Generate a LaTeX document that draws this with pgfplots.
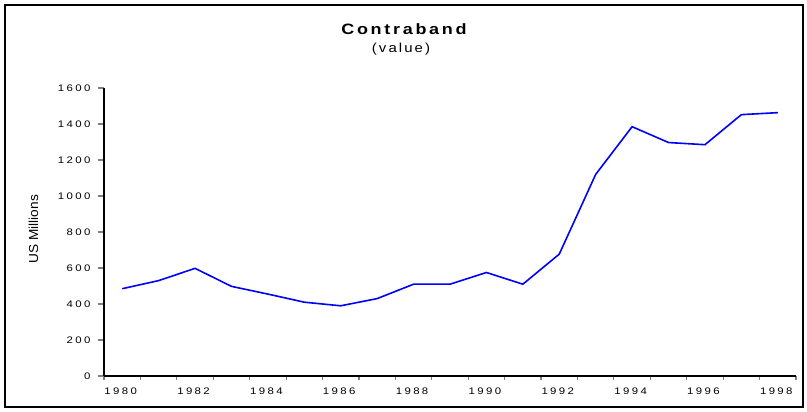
\documentclass[border=0pt]{standalone}
\usepackage{fontspec}
\setmainfont{Liberation Sans}
\newfontfamily\tickfont[FakeStretch=1.2,LetterSpace=25]{Liberation Sans}
\newfontfamily\titlefont[FakeStretch=1.2,LetterSpace=18]{Liberation Sans}
\newfontfamily\subfont[FakeStretch=1.15,LetterSpace=16]{Liberation Sans}
\newfontfamily\labelfont[FakeStretch=1.05]{Liberation Sans}
\usepackage{pgfplots}
\pgfplotsset{compat=1.18}
\begin{document}
\begin{tikzpicture}[x=1pt,y=1pt]
\fill[white] (-104,-36) rectangle (703,376);
\draw[line width=2pt] (-99,-31) rectangle (699,371);
\begin{axis}[
  at={(0pt,0pt)}, anchor=south west,
  scale only axis, width=692pt, height=288pt,
  xmin=-0.5, xmax=18.5, ymin=0, ymax=1600,
  axis x line=bottom, axis y line=left,
  axis line style={line width=1.5pt,-},
  xtick={0,2,...,18},
  xticklabels={1980,1982,1984,1986,1988,1990,1992,1994,1996,1998},
  minor xtick={-0.5,0.5,...,18.5},
  major x tick style={draw=none},
  minor x tick style={line width=1.2pt},
  minor tick length=4pt,
  ytick={0,200,...,1600},
  y tick style={line width=1.2pt},
  major tick length=6pt,
  tick align=outside,
  ticklabel style={font=\tickfont\fontsize{9.5}{11}\selectfont},
  /pgf/number format/assume math mode=true,
  /pgf/number format/1000 sep={},
  xticklabel style={yshift=-2pt,xshift=-1.5pt},
  yticklabel style={xshift=-4pt},
  ylabel={US Millions},
  ylabel style={at={(axis description cs:-0.102,0.51)}, anchor=center, font=\labelfont\fontsize{13}{15}\selectfont},
  clip=false,
]
\addplot[blue, line width=1.6pt, no markers] coordinates {
(0,485) (1,530) (2,598) (3,498) (4,455) (5,410) (6,390) (7,430) (8,510) (9,510)
(10,575) (11,510) (12,677) (13,1120) (14,1385) (15,1297) (16,1285) (17,1452) (18,1463)
};
\end{axis}
\node[font=\titlefont\bfseries\fontsize{15}{17}\selectfont] at (300,347) {Contraband};
\node[font=\subfont\fontsize{13}{15}\selectfont] at (297,327) {(value)};
\end{tikzpicture}
\end{document}
